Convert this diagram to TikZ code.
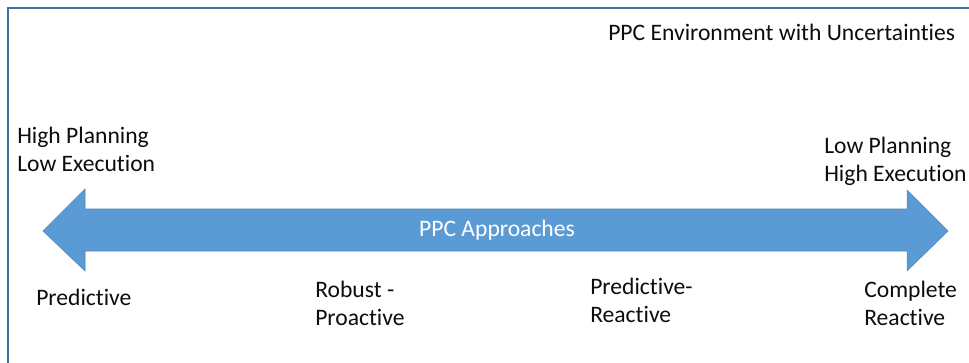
\documentclass[tikz,border=0pt]{standalone}
\usepackage{fontspec}
\setmainfont{Carlito}[RawFeature={-liga}]
\definecolor{frameblue}{HTML}{41719C}
\definecolor{arrowfill}{HTML}{5B9BD5}
\definecolor{arrowedge}{HTML}{4F86B8}
\definecolor{txt}{HTML}{0D0D0D}
\begin{document}
\begin{tikzpicture}[x=0.75pt,y=-0.75pt,
  lbl/.style={inner sep=0pt, align=left, text=txt, font=\fontsize{17.7pt}{21pt}\selectfont},
  frameline/.style={draw=frameblue, line width=1.1pt}]
\useasboundingbox (0,0) rectangle (969,363);
\fill[white] (0,0) rectangle (969,363);
% frame (top and left edges visible)
\draw[frameline] (8,363) -- (8,8) -- (969,8);
% double arrow
\filldraw[fill=arrowfill, draw=arrowedge, line width=0.4pt, line join=miter]
  (43,231) -- (85,189) -- (85,209) -- (907,209) -- (907,190) -- (948,231)
  -- (907,271) -- (907,251) -- (85,251) -- (85,271) -- cycle;
\node[lbl, text=white, anchor=center] (appr) at (497,230) {PPC Approaches};
% labels (base west = baseline of last line)
\node[lbl, anchor=base west] (env) at (608,41) {PPC Environment with Uncertainties};
\node[lbl, anchor=base west] (hp) at (17,172) {High Planning\\Low Execution};
\node[lbl, anchor=base west] (lp) at (824,182) {Low Planning\\High Execution};
\node[lbl, anchor=base west] (pred) at (36,305) {Predictive};
\node[lbl, anchor=base west] (rob) at (315,325) {Robust -\\Proactive};
\node[lbl, anchor=base west] (pr) at (590,322) {Predictive-\\Reactive};
\node[lbl, anchor=base west] (cr) at (864,325) {Complete\\Reactive};
\end{tikzpicture}
\end{document}
